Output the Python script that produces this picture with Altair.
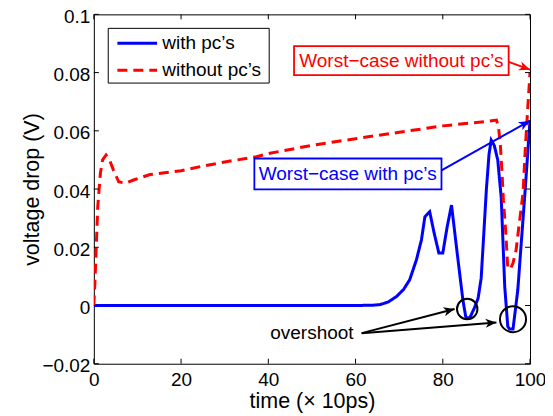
import math
import altair as alt
import pandas as pd

# ---------------- data ----------------
series_names = ["with pc\u2019s", "without pc\u2019s"]
series_colors = ["#0000ff", "#ff0000"]
series_dash = [[1, 0], [10, 6]]

blue_t = [0, 20, 40, 60, 64, 65.6, 67.5, 69.4, 71.0, 72.4, 73.96, 75.1, 75.9, 77.0, 78.0,
          79.1, 80.0, 81.0, 82.0, 83.3, 84.6, 85.3, 86.2, 87.2, 88.1, 88.8, 90.0, 90.6,
          91.1, 91.8, 92.6, 93.4, 94.2, 94.9, 95.3, 96.1, 97.2, 98.9, 100]
blue_v = [0, 0, 0, 0, 0.0001, 0.0003, 0.0012, 0.0031, 0.0055, 0.0088, 0.0157, 0.0225,
          0.0305, 0.0322, 0.025, 0.018, 0.018, 0.027, 0.0345, 0.018, 0.002, -0.0042,
          -0.0042, -0.001, 0.0025, 0.0094, 0.040, 0.052, 0.0568, 0.055, 0.050, 0.037,
          0.0065, -0.0072, -0.0081, -0.0081, 0.0054, 0.040, 0.0637]

red_t = [0, 0.3, 0.6, 0.9, 1.5, 2.0, 2.8, 3.6, 4.5, 5.7, 7.2, 9.1, 12.9, 20, 24.4, 30,
         37.3, 40.4, 50, 60, 70, 80, 90, 92.3, 92.8, 93.2, 93.6, 93.9, 94.4, 94.9, 95.5,
         96.1, 96.8, 97.6, 98.4, 98.9, 99.4, 100]
red_v = [0, 0.010, 0.022, 0.034, 0.0454, 0.050, 0.0517, 0.050, 0.0465, 0.0425, 0.042,
         0.0431, 0.045, 0.0463, 0.0477, 0.0493, 0.0511, 0.0523, 0.055, 0.0573, 0.0595,
         0.0617, 0.0632, 0.0637, 0.061, 0.055, 0.045, 0.036, 0.026, 0.0129, 0.0125,
         0.0146, 0.019, 0.029, 0.0386, 0.0534, 0.066, 0.080]

x_ticks = [0, 20, 40, 60, 80, 100]
y_ticks = [-0.02, 0, 0.02, 0.04, 0.06, 0.08, 0.1]

# legend box, placed in data coordinates
legend_box_t = [3.3, 40.2]
legend_box_v = [0.0764, 0.0952]
legend_line_t = [5.4, 14.5]
legend_row_v = [0.0901, 0.0808]
legend_text_t = 15.7

# annotation boxes (data coordinates)
box_labels = ["Worst\u2212case with pc\u2019s", "Worst\u2212case without pc\u2019s"]
box_colors = ["#0000ff", "#ff0000"]
box_t1 = [36.8, 45.9]
box_t2 = [79.7, 95.1]
box_v1 = [0.0399, 0.0791]
box_v2 = [0.0505, 0.0891]
box_text_t = [58.2, 70.5]
box_text_v = [0.0452, 0.0841]

# arrows
arrow_t1 = [79.7, 95.1, 61.4, 61.4]
arrow_v1 = [0.0464, 0.0837, -0.0095, -0.0095]
arrow_t2 = [99.9, 100.0, 82.7, 92.3]
arrow_v2 = [0.0634, 0.0810, -0.0012, -0.0058]
arrow_colors = ["#0000ff", "#ff0000", "black", "black"]

# circles
circle_t = [85.6, 96.1]
circle_v = [-0.0012, -0.0047]
circle_size = [420, 680]

note_text = ["overshoot"]
note_t = [50.0]
note_v = [-0.0094]

# ---------------- chart ----------------
W, H = 437, 350
FONT = "Liberation Sans"

xscale = alt.Scale(domain=[0, 100], nice=False, zero=False)
yscale = alt.Scale(domain=[-0.02, 0.1], nice=False, zero=False)

xaxis = alt.Axis(values=x_ticks, format="d", ticks=False, domain=False, grid=False,
                 labelFontSize=19, labelPadding=22, labelBaseline="alphabetic",
                 labelFlush=False, labelOverlap=False, labelColor="black",
                 titleFontSize=21.5, titleFontWeight=400, titleColor="black",
                 titleY=44, titleBaseline="alphabetic")
yaxis = alt.Axis(values=y_ticks, format=".2~f", ticks=False, domain=False, grid=False,
                 labelFontSize=19, labelPadding=4, labelBaseline="alphabetic",
                 labelOffset=8, labelFlush=False, labelOverlap=False, labelColor="black",
                 titleFontSize=21.5, titleFontWeight=400, titleColor="black",
                 titleX=-61, titleY=175, titleAngle=270, titleAlign="center",
                 titleBaseline="middle")

XT = "time (\u00d7 10ps)"
YT = "voltage drop (V)"


def X(f):
    return alt.X(f, type="quantitative", scale=xscale, axis=xaxis, title=XT)


def Y(f):
    return alt.Y(f, type="quantitative", scale=yscale, axis=yaxis, title=YT)


layers = []

series_t = [blue_t, red_t]
series_v = [blue_v, red_v]
for i in range(2):
    dfl = pd.DataFrame({"t": series_t[i], "v": series_v[i]})
    layers.append(alt.Chart(dfl).mark_line(strokeWidth=3, clip=True, color=series_colors[i],
                                           strokeDash=series_dash[i]).encode(
        x=X("t"), y=Y("v")))

# inward ticks on all four sides
dfx = pd.DataFrame({"t": x_ticks})
dfy = pd.DataFrame({"v": y_ticks})
layers.append(alt.Chart(dfx).mark_rule(color="black", strokeWidth=1).encode(
    x=X("t"), y=alt.value(H), y2=alt.value(H - 5)))
layers.append(alt.Chart(dfx).mark_rule(color="black", strokeWidth=1).encode(
    x=X("t"), y=alt.value(0), y2=alt.value(5)))
layers.append(alt.Chart(dfy).mark_rule(color="black", strokeWidth=1).encode(
    y=Y("v"), x=alt.value(0), x2=alt.value(5)))
layers.append(alt.Chart(dfy).mark_rule(color="black", strokeWidth=1).encode(
    y=Y("v"), x=alt.value(W), x2=alt.value(W - 5)))

# legend
dflb = pd.DataFrame({"t": [legend_box_t[0]], "t2": [legend_box_t[1]],
                     "v": [legend_box_v[0]], "v2": [legend_box_v[1]]})
layers.append(alt.Chart(dflb).mark_rect(fill="white", stroke="black", strokeWidth=1).encode(
    x=X("t"), x2="t2", y=Y("v"), y2="v2"))
for i in range(2):
    dfs = pd.DataFrame({"t": [legend_line_t[0]], "t2": [legend_line_t[1]],
                        "v": [legend_row_v[i]]})
    layers.append(alt.Chart(dfs).mark_rule(color=series_colors[i], strokeWidth=3,
                                           strokeDash=series_dash[i]).encode(
        x=X("t"), x2="t2", y=Y("v")))
    dfs2 = pd.DataFrame({"t": [legend_text_t], "v": [legend_row_v[i]],
                         "label": [series_names[i]]})
    layers.append(alt.Chart(dfs2).mark_text(font=FONT, fontSize=19, color="black",
                                            align="left", baseline="middle").encode(
        x=X("t"), y=Y("v"), text="label:N"))

# annotation boxes with text
for i in range(len(box_labels)):
    dfb = pd.DataFrame({"t": [box_t1[i]], "t2": [box_t2[i]],
                        "v": [box_v1[i]], "v2": [box_v2[i]]})
    layers.append(alt.Chart(dfb).mark_rect(fill="white", stroke=box_colors[i],
                                           strokeWidth=1.8).encode(
        x=X("t"), x2="t2", y=Y("v"), y2="v2"))
    dft = pd.DataFrame({"t": [box_text_t[i]], "v": [box_text_v[i]],
                        "label": [box_labels[i]]})
    layers.append(alt.Chart(dft).mark_text(font=FONT, fontSize=19, color=box_colors[i],
                                           align="center", baseline="middle").encode(
        x=X("t"), y=Y("v"), text="label:N"))

# note text
dfn = pd.DataFrame({"t": note_t, "v": note_v, "label": note_text})
layers.append(alt.Chart(dfn).mark_text(font=FONT, fontSize=19, color="black",
                                       align="center", baseline="middle").encode(
    x=X("t"), y=Y("v"), text="label:N"))

# circles
dfc = pd.DataFrame({"t": circle_t, "v": circle_v, "s": circle_size})
layers.append(alt.Chart(dfc).mark_point(shape="circle", filled=False, color="black",
                                        strokeWidth=2, opacity=1).encode(
    x=X("t"), y=Y("v"), size=alt.Size("s:Q", scale=None, legend=None)))

# arrows
HEAD = "M0,0 L-0.42,1 L0,0.72 L0.42,1 Z"


def head_angle(t1, v1, t2, v2):
    dx = (t2 - t1) * W / 100.0
    dy = -(v2 - v1) * H / 0.12
    return math.degrees(math.atan2(dx, -dy)) % 360


for i in range(len(arrow_t1)):
    dfa = pd.DataFrame({"t": [arrow_t1[i]], "t2": [arrow_t2[i]],
                        "v": [arrow_v1[i]], "v2": [arrow_v2[i]]})
    layers.append(alt.Chart(dfa).mark_rule(color=arrow_colors[i], strokeWidth=2).encode(
        x=X("t"), x2="t2", y=Y("v"), y2="v2"))
    dfh = pd.DataFrame({"t": [arrow_t2[i]], "v": [arrow_v2[i]]})
    ang = head_angle(arrow_t1[i], arrow_v1[i], arrow_t2[i], arrow_v2[i])
    layers.append(alt.Chart(dfh).mark_point(shape=HEAD, filled=True, color=arrow_colors[i],
                                            size=484, angle=ang, opacity=1,
                                            strokeWidth=0).encode(
        x=X("t"), y=Y("v")))

chart = alt.layer(*layers).properties(
    width=W, height=H,
    autosize=alt.AutoSizeParams(type="none"),
    padding={"left": 86, "top": 6, "right": 15, "bottom": 56},
).configure(font=FONT).configure_view(stroke="black", strokeWidth=1).configure_axis(
    titleFontWeight="normal")

chart.save("out.html", embed_options={"renderer": "svg", "actions": False})
